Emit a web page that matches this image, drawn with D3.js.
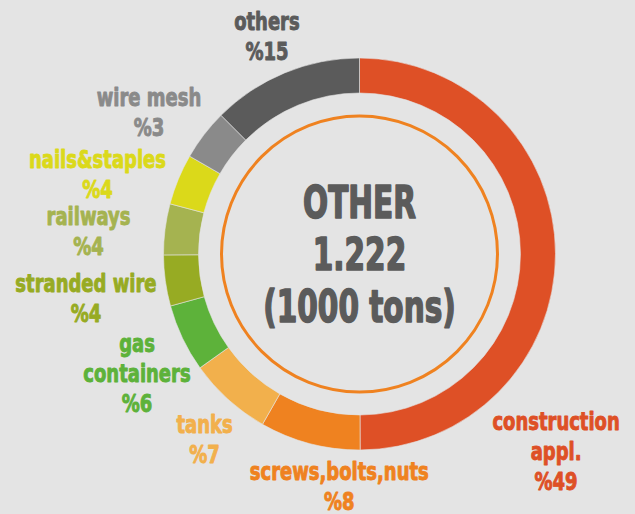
<!DOCTYPE html>
<html>
<head>
<meta charset="utf-8">
<script src="https://cdn.jsdelivr.net/npm/d3@7"></script>
<style>
	html, body { margin: 0; padding: 0; background: #e4e4e4; }
	svg { display: block; }
	text { font-family: Impact, "Liberation Sans Narrow", "DejaVu Sans Condensed", sans-serif; font-weight: bold; }
</style>
</head>
<body>
<div id="chart"></div>
<script>
const WIDTH = 635;
const HEIGHT = 514;

// slices, clockwise from 12 o'clock
const categories = ["construction\nappl.", "screws,bolts,nuts", "tanks", "gas\ncontainers", "stranded wire", "railways", "nails&staples", "wire mesh", "others"];
// arc sizes as drawn (share of the ring, %)
const arcShares = [50, 8.3, 6.9, 5.6, 4.2, 4.2, 4.2, 4.2, 12.5];
// percentages as printed on the labels
const pctLabels = ["%49", "%8", "%7", "%6", "%4", "%4", "%4", "%3", "%15"];
const colors = ["#de5026", "#ef8220", "#f2b04c", "#5db23a", "#97ab23", "#a5b350", "#dbd91a", "#8a8a8a", "#5b5b5b"];
const centerLines = ["OTHER", "1.222", "(1000 tons)"];

// label block placement: [angle (deg, clockwise from top), distance from centre]
const labelPlace = [[135, 278], [185, 232], [220, 241], [242, 252], [261, 277], [275, 272], [287, 274], [304, 254], [337, 237]];

const cx = 359.5, cy = 254;
const outerR = 196, innerR = 161, ringR = 138;
// squeeze the fallback font towards the narrow display face of the original
const labelSqueeze = 0.8, centerSqueeze = 0.73;

const svg = d3.select("#chart")
	.append("svg")
	.attr("width", WIDTH)
	.attr("height", HEIGHT);

svg.append("rect")
	.attr("width", WIDTH)
	.attr("height", HEIGHT)
	.attr("fill", "#e4e4e4");

const chart = svg.append("g").attr("transform", `translate(${cx}, ${cy})`);

const data = categories.map((c, i) => ({ name: c, share: arcShares[i], pct: pctLabels[i], color: colors[i], place: labelPlace[i] }));

const pie = d3.pie().sort(null).value((d) => d.share);
const arc = d3.arc().innerRadius(innerR).outerRadius(outerR);

chart.selectAll("path.slice")
	.data(pie(data))
	.enter()
	.append("path")
	.attr("class", "slice")
	.attr("d", arc)
	.attr("fill", (d) => d.data.color)
	.attr("stroke", "#e4e4e4")
	.attr("stroke-width", 0.6);

// inner orange ring
chart.append("circle")
	.attr("r", ringR)
	.attr("fill", "none")
	.attr("stroke", "#ef8220")
	.attr("stroke-width", 3);

// centre text
chart.selectAll("text.center")
	.data(centerLines)
	.enter()
	.append("text")
	.attr("class", "center")
	.attr("text-anchor", "middle")
	.attr("transform", (d, i) => `translate(0, ${(i - 1) * 52 + 16}) scale(${centerSqueeze}, 1)`)
	.attr("font-size", "45px")
	.attr("fill", "#5b5b5b")
	.attr("stroke", "#5b5b5b")
	.attr("stroke-width", 1.6)
	.attr("stroke-linejoin", "round")
	.text((d) => d);

// labels
const lineGap = 30;
const labels = chart.selectAll("g.label")
	.data(data)
	.enter()
	.append("g")
	.attr("class", "label")
	.attr("transform", (d) => {
		const a = d.place[0] * Math.PI / 180;
		return `translate(${d.place[1] * Math.sin(a)}, ${-d.place[1] * Math.cos(a)})`;
	});

labels.each(function (d) {
	const lines = d.name.split("\n").concat([d.pct]);
	d3.select(this).selectAll("text")
		.data(lines)
		.enter()
		.append("text")
		.attr("text-anchor", "middle")
		.attr("transform", (t, i) => `translate(0, ${(i - (lines.length - 1) / 2) * lineGap + 9.5}) scale(${labelSqueeze}, 1)`)
		.attr("font-size", "25px")
		.attr("fill", d.color)
		.attr("stroke", d.color)
		.attr("stroke-width", 0.9)
		.attr("stroke-linejoin", "round")
		.text((t) => t);
});
</script>
</body>
</html>
